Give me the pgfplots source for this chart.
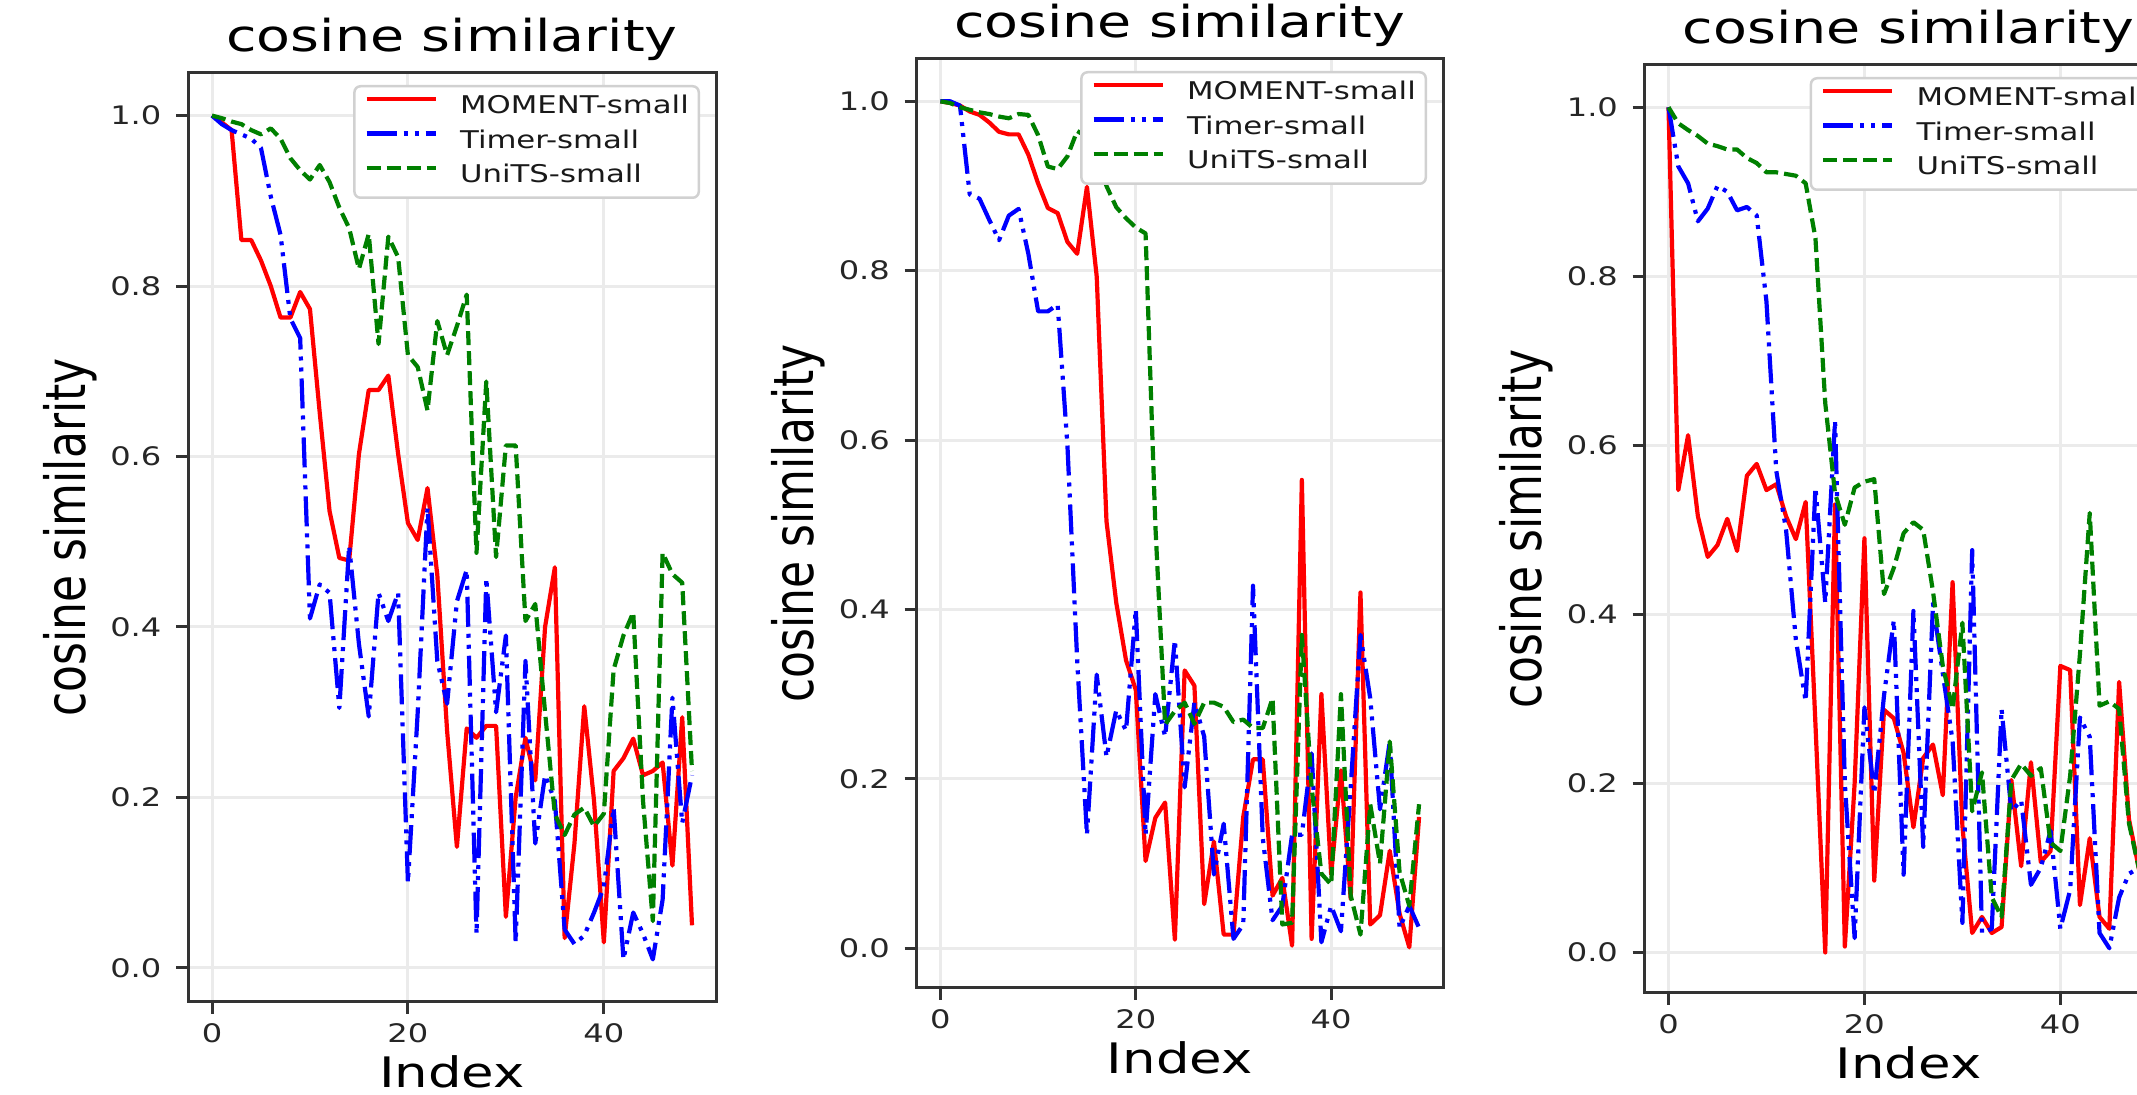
\documentclass[border=0pt]{standalone}
\usepackage{fontspec}
\setmainfont{DejaVu Sans}[FakeStretch=1.26]
\newfontfamily\plainfont{DejaVu Sans}
\usepackage{graphicx}
\usepackage{pgfplots}
\usepackage{pgfplotstable}
\pgfplotsset{compat=1.18}

\definecolor{mplgreen}{RGB}{0,128,0}

% columns: i = index, m = MOMENT-small, t = Timer-small, u = UniTS-small
\pgfplotstableread{
i m t u
0 1.000 1.000 1.000
1 0.992 0.990 0.997
2 0.983 0.983 0.993
3 0.854 0.978 0.990
4 0.854 0.973 0.983
5 0.830 0.962 0.978
6 0.800 0.905 0.985
7 0.763 0.860 0.973
8 0.763 0.762 0.950
9 0.793 0.739 0.936
10 0.773 0.410 0.925
11 0.651 0.450 0.942
12 0.536 0.440 0.922
13 0.481 0.305 0.892
14 0.478 0.495 0.868
15 0.603 0.380 0.820
16 0.678 0.295 0.861
17 0.678 0.440 0.732
18 0.695 0.407 0.858
19 0.603 0.440 0.834
20 0.522 0.100 0.719
21 0.502 0.300 0.705
22 0.563 0.540 0.654
23 0.461 0.360 0.759
24 0.278 0.310 0.719
25 0.142 0.430 0.753
26 0.281 0.467 0.790
27 0.270 0.040 0.487
28 0.284 0.457 0.688
29 0.284 0.300 0.482
30 0.060 0.390 0.613
31 0.200 0.030 0.613
32 0.270 0.360 0.407
33 0.220 0.146 0.427
34 0.400 0.226 0.300
35 0.470 0.196 0.180
36 0.035 0.045 0.156
37 0.146 0.028 0.180
38 0.307 0.038 0.188
39 0.196 0.065 0.166
40 0.030 0.095 0.181
41 0.231 0.188 0.350
42 0.246 0.010 0.390
43 0.269 0.065 0.417
44 0.226 0.040 0.196
45 0.231 0.010 0.055
46 0.241 0.080 0.487
47 0.120 0.317 0.462
48 0.294 0.170 0.452
49 0.050 0.226 0.231
}\dataA

\pgfplotstableread{
i m t u
0 1.000 1.000 1.000
1 0.998 1.000 0.998
2 0.995 0.995 0.993
3 0.988 0.890 0.990
4 0.984 0.885 0.987
5 0.975 0.860 0.985
6 0.964 0.836 0.982
7 0.961 0.865 0.980
8 0.961 0.873 0.985
9 0.937 0.820 0.984
10 0.903 0.752 0.960
11 0.874 0.752 0.923
12 0.868 0.760 0.920
13 0.834 0.594 0.935
14 0.820 0.340 0.965
15 0.899 0.134 0.958
16 0.793 0.323 0.935
17 0.504 0.226 0.900
18 0.408 0.281 0.875
19 0.340 0.257 0.862
20 0.305 0.400 0.851
21 0.103 0.134 0.844
22 0.154 0.300 0.500
23 0.172 0.250 0.264
24 0.010 0.364 0.280
25 0.328 0.190 0.290
26 0.310 0.290 0.265
27 0.052 0.250 0.290
28 0.126 0.087 0.290
29 0.016 0.147 0.285
30 0.016 0.011 0.267
31 0.155 0.028 0.270
32 0.223 0.428 0.260
33 0.223 0.130 0.260
34 0.062 0.033 0.295
35 0.083 0.050 0.028
36 0.003 0.134 0.030
37 0.553 0.134 0.370
38 0.011 0.230 0.190
39 0.300 0.007 0.088
40 0.087 0.050 0.075
41 0.210 0.020 0.300
42 0.058 0.190 0.062
43 0.420 0.370 0.016
44 0.028 0.295 0.170
45 0.039 0.164 0.100
46 0.115 0.244 0.244
47 0.041 0.024 0.090
48 0.001 0.050 0.050
49 0.155 0.024 0.170
}\dataB

\pgfplotstableread{
i m t u
0 1.000 1.000 1.000
1 0.547 0.930 0.981
2 0.612 0.910 0.973
3 0.516 0.865 0.966
4 0.468 0.880 0.957
5 0.482 0.907 0.954
6 0.513 0.900 0.950
7 0.475 0.878 0.950
8 0.564 0.882 0.940
9 0.578 0.872 0.934
10 0.547 0.770 0.923
11 0.554 0.570 0.923
12 0.516 0.500 0.921
13 0.489 0.370 0.919
14 0.533 0.297 0.910
15 0.270 0.550 0.845
16 0.000 0.414 0.650
17 0.530 0.629 0.543
18 0.007 0.200 0.506
19 0.200 0.017 0.550
20 0.490 0.290 0.557
21 0.085 0.188 0.560
22 0.287 0.304 0.424
23 0.277 0.393 0.455
24 0.236 0.092 0.496
25 0.148 0.404 0.509
26 0.230 0.125 0.500
27 0.246 0.413 0.427
28 0.186 0.330 0.339
29 0.438 0.250 0.288
30 0.150 0.035 0.390
31 0.023 0.476 0.167
32 0.042 0.023 0.213
33 0.023 0.028 0.065
34 0.030 0.288 0.042
35 0.204 0.167 0.204
36 0.102 0.180 0.223
37 0.225 0.080 0.209
38 0.107 0.100 0.218
39 0.120 0.144 0.130
40 0.339 0.028 0.120
41 0.334 0.074 0.209
42 0.056 0.278 0.353
43 0.135 0.255 0.520
44 0.042 0.023 0.292
45 0.028 0.005 0.297
46 0.320 0.065 0.288
47 0.158 0.093 0.153
48 0.100 0.100 0.100
49 0.050 0.120 0.150
}\dataC

\pgfplotsset{
  cospanel/.style={
    scale only axis, width=528pt, height=929pt,
    xmin=-2.45, xmax=51.45, ymax=1.05,
    xtick={0,20,40}, ytick={0,0.2,0.4,0.6,0.8,1.0},
    tick align=outside, tick pos=left, major tick length=12pt,
    tick style={line width=3pt, black!80},
    axis line style={line width=3pt, black!80},
    grid=major, major grid style={line width=3pt, black!8},
    /pgf/number format/assume math mode=true,
    tick label style={font=\fontsize{25.5}{30}\selectfont, text=black!85, inner sep=0pt},
    yticklabel style={/pgf/number format/.cd, fixed, fixed zerofill, precision=1, /tikz/.cd, xshift=-14.4pt},
    xticklabel style={yshift=-9pt},
    title={cosine similarity},
    title style={at={(0.5,1)}, anchor=base, yshift=15pt, font=\fontsize{44}{50}\selectfont},
    xlabel={Index},
    xlabel style={at={(0.5,0)}, anchor=base, yshift=-85pt, font=\fontsize{42}{48}\selectfont},
    ylabel={\scalebox{1}[1.26]{\plainfont cosine similarity}},
    ylabel style={at={(-0.195,0.5)}, anchor=base, font=\fontsize{44}{50}\selectfont},
    legend cell align=left,
    legend image code/.code={\draw[##1] (0pt,8.5pt) -- (69pt,8.5pt); \path (91.5pt,0pt);},
    legend style={at={(1,1)}, anchor=north east, xshift=-16pt, yshift=-12pt,
      draw=black!18, line width=2.5pt, rounded corners=6pt, fill=white,
      inner xsep=10pt, inner ysep=10pt, row sep=12pt,
      font=\fontsize{24.4}{28}\selectfont, text=black!90,
      nodes={inner sep=0pt, text height=17.5pt, text depth=5pt}},
  },
  moment/.style={red, line width=4.2pt, line join=round},
  timer/.style={blue, line width=4.2pt, line join=round, dash pattern=on 30pt off 7pt on 4pt off 7pt on 4pt off 7pt},
  units/.style={mplgreen, line width=4.2pt, line join=round, dash pattern=on 14pt off 6pt},
}

\begin{document}
\begin{tikzpicture}
\path[use as bounding box] (0,0) rectangle (2137pt,1095pt);
\clip (0,0) rectangle (2137pt,1095pt);

\begin{axis}[cospanel, at={(188pt,93pt)}, anchor=south west, ymin=-0.04]
\addplot[moment] table[x=i,y=m] {\dataA};
\addplot[timer] table[x=i,y=t] {\dataA};
\addplot[units] table[x=i,y=u] {\dataA};
\legend{MOMENT-small,Timer-small,UniTS-small}
\end{axis}

\begin{axis}[cospanel, at={(916.5pt,107pt)}, anchor=south west, width=526.5pt, ymin=-0.047]
\addplot[moment] table[x=i,y=m] {\dataB};
\addplot[timer] table[x=i,y=t] {\dataB};
\addplot[units] table[x=i,y=u] {\dataB};
\legend{MOMENT-small,Timer-small,UniTS-small}
\end{axis}

\begin{axis}[cospanel, at={(1644.5pt,102pt)}, anchor=south west, height=928pt, ymin=-0.048]
\addplot[moment] table[x=i,y=m] {\dataC};
\addplot[timer] table[x=i,y=t] {\dataC};
\addplot[units] table[x=i,y=u] {\dataC};
\legend{MOMENT-small,Timer-small,UniTS-small}
\end{axis}
\end{tikzpicture}
\end{document}
